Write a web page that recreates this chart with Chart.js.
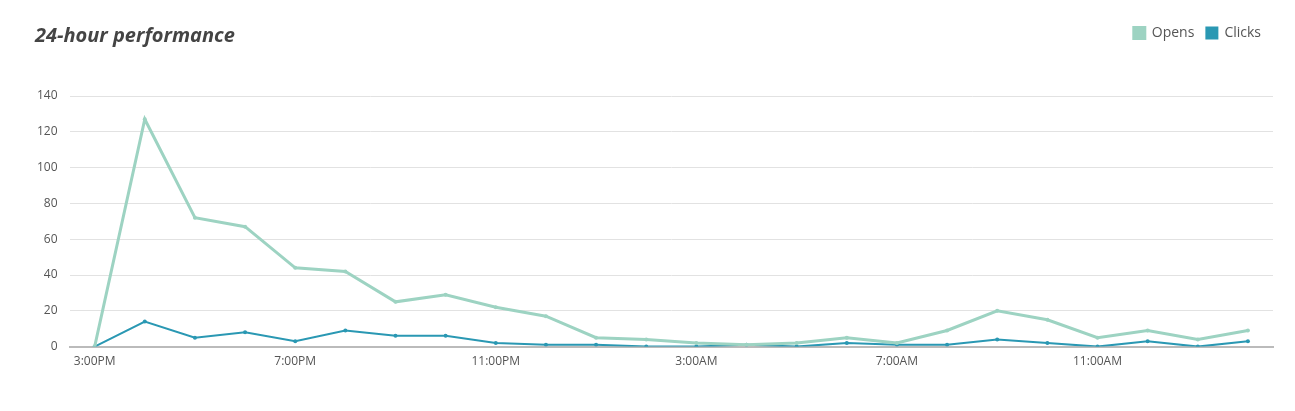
<!DOCTYPE html>
<html>
<head>
<meta charset="utf-8">
<script src="https://cdn.jsdelivr.net/npm/chart.js@4"></script>
<style>
  html, body { margin: 0; padding: 0; background: #fff; }
  #wrap { position: relative; width: 1295px; height: 411px; }
  #title { position: absolute; left: 35px; top: 21px; font: italic 700 20px "Open Sans", sans-serif; color: #444; }
</style>
</head>
<body>
<div id="wrap">
  <div id="title">24-hour performance</div>
  <canvas id="chart" width="1295" height="411"></canvas>
</div>
<script>
// hourly buckets, 3:00PM through 2:00PM next day
const hours = ["3:00PM","4:00PM","5:00PM","6:00PM","7:00PM","8:00PM","9:00PM","10:00PM","11:00PM","12:00AM",
  "1:00AM","2:00AM","3:00AM","4:00AM","5:00AM","6:00AM","7:00AM","8:00AM","9:00AM","10:00AM","11:00AM","12:00PM","1:00PM","2:00PM"];
const opens  = [0,127,72,67,44,42,25,29,22,17,5,4,2,1,2,5,2,9,20,15,5,9,4,9];
const clicks = [0,14,5,8,3,9,6,6,2,1,1,0,0,1,0,2,1,1,4,2,0,3,0,3];
const yTicks = [0,20,40,60,80,100,120,140];

const font = { family: "'Open Sans', sans-serif", size: 12 };

// push the plot down below the legend row
const legendGap = {
  id: 'legendGap',
  beforeInit(chart) {
    const fit = chart.legend.fit;
    chart.legend.fit = function () { fit.bind(chart.legend)(); this.height += 46; };
  }
};

new Chart(document.getElementById('chart'), {
  type: 'line',
  data: {
    labels: hours,
    datasets: [
      { label: 'Opens', data: opens, borderColor: '#9dd3c2', backgroundColor: '#9dd3c2',
        borderWidth: 3, pointRadius: 2, pointBorderWidth: 0, tension: 0 },
      { label: 'Clicks', data: clicks, borderColor: '#2a98b3', backgroundColor: '#2a98b3',
        borderWidth: 2, pointRadius: 2, pointBorderWidth: 0, tension: 0 }
    ]
  },
  options: {
    responsive: false,
    animation: false,
    layout: { padding: { left: 25, right: 22, top: 14, bottom: 34 } },
    plugins: {
      legend: {
        align: 'end',
        labels: { boxWidth: 11, boxHeight: 11, padding: 12, color: '#555',
          font: { family: "'Open Sans', sans-serif", size: 14 } }
      },
      tooltip: { enabled: false }
    },
    scales: {
      x: {
        offset: true,
        grid: { display: false, drawTicks: false },
        border: { color: '#bbb', width: 2 },
        ticks: { autoSkip: false, maxRotation: 0, color: '#555', font, padding: 8,
          callback: (v, i) => i % 4 === 0 ? hours[i] : '' }
      },
      y: {
        min: 0, max: 140,
        afterBuildTicks: axis => { axis.ticks = yTicks.map(v => ({ value: v })); },
        grid: { color: '#e2e2e2', drawTicks: false },
        border: { display: false },
        ticks: { color: '#555', font, padding: 12 }
      }
    }
  },
  plugins: [legendGap]
});
</script>
</body>
</html>
